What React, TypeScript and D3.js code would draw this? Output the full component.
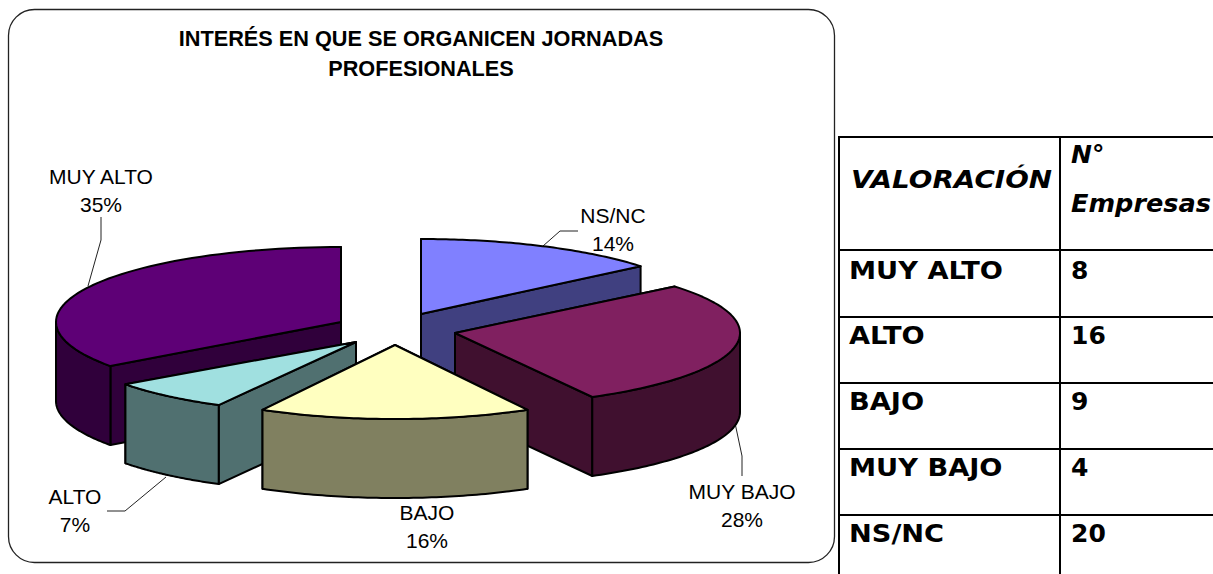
import React from "react";
import * as d3 from "d3";

const titleLines = ["INTERÉS EN QUE SE ORGANICEN JORNADAS", "PROFESIONALES"];
const categories = ["NS/NC", "MUY BAJO", "BAJO", "ALTO", "MUY ALTO"];
const percents = [14, 28, 16, 7, 35];
const topColors = ["#8080FF", "#802060", "#FFFFC0", "#A0E0E0", "#5E0076"];
const sideColors = ["#404080", "#40102F", "#808060", "#507070", "#30003B"];

// exploded slice centres and radii in the picture
const centerX = [421, 455, 395, 356, 341];
const centerY = [314, 333, 345, 342, 322];
const radiusX = [285, 285, 275, 285, 285];
const radiusY = [75, 73, 74, 72, 75];
const DEPTH = 79;
const drawOrder = [0, 4, 1, 3, 2];

const labelX = [613, 742, 427, 75, 101];
const labelY = [216, 492, 513, 497, 177];
const leaders: [number, number][][] = [
  [[543, 246], [560, 231], [578, 231]],
  [[735, 423], [742, 456], [742, 476]],
  [[400, 0], [400, 0]],
  [[166, 477], [125, 511], [107, 511]],
  [[88, 286], [101, 240], [101, 217]],
];

const tableHeader = ["VALORACIÓN", "N°", "Empresas"];
const tableRows = ["MUY ALTO", "ALTO", "BAJO", "MUY BAJO", "NS/NC"];
const tableValues = [8, 16, 9, 4, 20];
const tableLinesY = [137, 250, 317, 383, 449, 515];
const rowBaselines = [279, 344, 410, 476, 542];

const arcs = d3.pie<number>().sort(null).value((d) => d).startAngle(0).endAngle(2 * Math.PI)(percents);
const line = d3.line<[number, number]>();

function point(i: number, a: number, dz = 0): [number, number] {
  const x = d3.scaleLinear().domain([-1, 1]).range([centerX[i] - radiusX[i], centerX[i] + radiusX[i]]);
  const y = d3.scaleLinear().domain([-1, 1]).range([centerY[i] - radiusY[i], centerY[i] + radiusY[i]]);
  return [x(Math.sin(a)), y(-Math.cos(a)) + dz];
}
function arcPts(i: number, a0: number, a1: number, dz = 0): [number, number][] {
  return d3.range(0, 61).map((k) => point(i, a0 + ((a1 - a0) * k) / 60, dz));
}
const apex = (i: number, dz = 0): [number, number] => [centerX[i], centerY[i] + dz];

function Slice({ i }: { i: number }) {
  const { startAngle: a0, endAngle: a1 } = arcs[i];
  const side = sideColors[i];
  const common = { stroke: "#000", strokeWidth: 2, strokeLinejoin: "round" as const };
  const face = (a: number) =>
    line([apex(i), point(i, a), point(i, a, DEPTH), apex(i, DEPTH)])! + "Z";
  const faces = [a0, a1].sort((p, q) => point(i, p)[1] - point(i, q)[1]);
  const w0 = Math.max(a0, Math.PI / 2);
  const w1 = Math.min(a1, (3 * Math.PI) / 2);
  const wall = w1 > w0 ? line([...arcPts(i, w0, w1), ...arcPts(i, w0, w1, DEPTH).reverse()])! + "Z" : null;
  return (
    <g>
      {faces.map((a) => (
        <path key={a} d={face(a)} fill={side} {...common} />
      ))}
      {wall && <path d={wall} fill={side} {...common} />}
      <path d={line([apex(i), ...arcPts(i, a0, a1)])! + "Z"} fill={topColors[i]} {...common} />
    </g>
  );
}

export default function App() {
  const sans = "'Liberation Sans', Arial, sans-serif";
  const verd = "'DejaVu Sans', Verdana, sans-serif";
  return (
    <svg
      width={1213}
      height={574}
      viewBox="0 0 1213 574"
      style={{ position: "absolute", left: 0, top: 0, display: "block", background: "#fff" }}
    >
      <rect x={8.5} y={9.5} width={826} height={553} rx={26} fill="#fff" stroke="#222" strokeWidth={1.3} />
      <g fontFamily={sans} fontWeight="bold" fontSize={21.7} textAnchor="middle" fill="#000">
        {titleLines.map((t, k) => (
          <text key={t} x={421} y={46 + k * 29.5}>{t}</text>
        ))}
      </g>
      {leaders.map((pts, i) =>
        i === 2 ? null : <path key={i} d={line(pts)!} fill="none" stroke="#222" strokeWidth={1} />
      )}
      {drawOrder.map((i) => (
        <Slice key={i} i={i} />
      ))}
      <g fontFamily={sans} fontSize={21} textAnchor="middle" fill="#000">
        {categories.map((c, i) => (
          <g key={c}>
            <text x={labelX[i]} y={labelY[i] + 7}>{c}</text>
            <text x={labelX[i]} y={labelY[i] + 35}>{percents[i]}%</text>
          </g>
        ))}
      </g>
      <g stroke="#000" strokeWidth={2}>
        {tableLinesY.map((y) => (
          <line key={y} x1={838} x2={1213} y1={y} y2={y} />
        ))}
        <line x1={839} x2={839} y1={136} y2={574} />
        <line x1={1060} x2={1060} y1={136} y2={574} />
      </g>
      <g fontFamily={verd} fontWeight="bold" fill="#000">
        <g fontStyle="italic" fontSize={25}>
          <text x={851} y={188} textLength={201} lengthAdjust="spacingAndGlyphs">{tableHeader[0]}</text>
          <text x={1071} y={163}>{tableHeader[1]}</text>
          <text x={1071} y={212} textLength={140} lengthAdjust="spacingAndGlyphs">{tableHeader[2]}</text>
        </g>
        <g fontSize={25}>
          {tableRows.map((r, i) => (
            <g key={r}>
              <text transform={`translate(849,${rowBaselines[i]}) scale(1.09,1)`}>{r}</text>
              <text x={1071} y={rowBaselines[i]}>{tableValues[i]}</text>
            </g>
          ))}
        </g>
      </g>
    </svg>
  );
}
